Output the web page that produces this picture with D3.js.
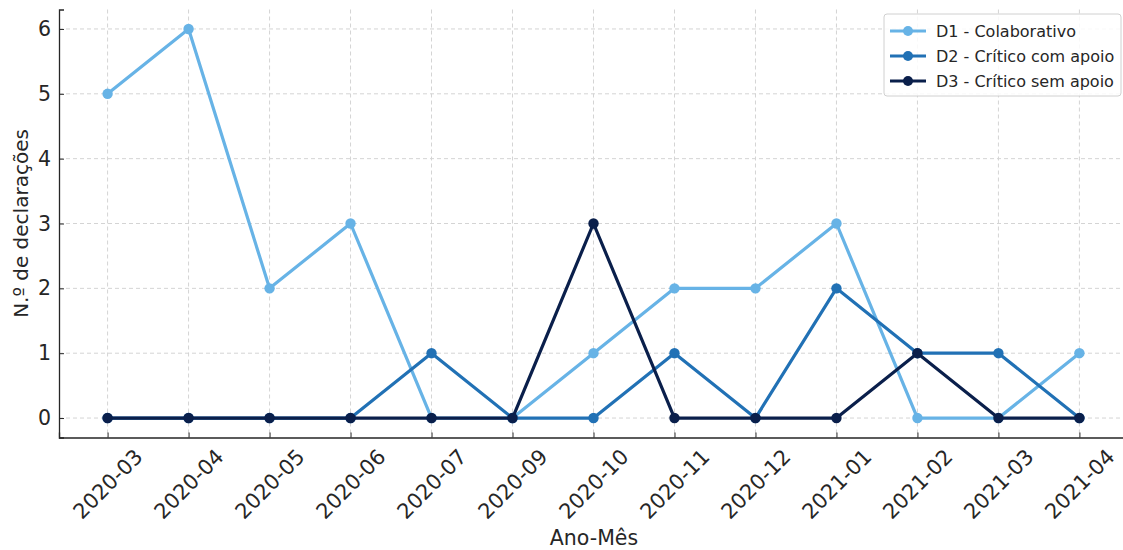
<!DOCTYPE html>
<html>
<head>
<meta charset="utf-8">
<title>Declarações por mês</title>
<script src="https://d3js.org/d3.v7.min.js"></script>
<style>
  body { margin: 0; background: #fff; }
  text { font-family: "DejaVu Sans", sans-serif; fill: #262626; }
</style>
</head>
<body>
<script>
// data
var months = ["2020-03","2020-04","2020-05","2020-06","2020-07","2020-09","2020-10",
              "2020-11","2020-12","2021-01","2021-02","2021-03","2021-04"];
var d1 = [5,6,2,3,0,0,1,2,2,3,0,0,1];
var d2 = [0,0,0,0,1,0,0,1,0,2,1,1,0];
var d3s = [0,0,0,0,0,0,3,0,0,0,1,0,0];
var seriesNames = ["D1 - Colaborativo", "D2 - Crítico com apoio", "D3 - Crítico sem apoio"];
var seriesColors = ["#67b3e6", "#2171b5", "#0a1f4b"];
var yTicks = [0,1,2,3,4,5,6];

var W = 1123, H = 550;
// plot area runs a little past the right edge, as in the original
var mLeft = 59, mRight = 1128, mTop = 9.5, mBottom = 437.5;

var svg = d3.select("body").append("svg").attr("width", W).attr("height", H);

var x = d3.scaleLinear().domain([-0.6, months.length - 1 + 0.6]).range([mLeft, mRight]);
var y = d3.scaleLinear().domain([-0.3, 6.3]).range([mBottom, mTop]);

// grid
var grid = svg.append("g");
grid.selectAll(".gx").data(months).enter().append("line")
    .attr("x1", function(d,i){ return x(i); }).attr("x2", function(d,i){ return x(i); })
    .attr("y1", mTop).attr("y2", mBottom)
    .attr("stroke", "#d4d4d4").attr("stroke-width", 1).attr("stroke-dasharray", "4,3");
grid.selectAll(".gy").data(yTicks).enter().append("line")
    .attr("x1", mLeft).attr("x2", mRight)
    .attr("y1", function(d){ return y(d); }).attr("y2", function(d){ return y(d); })
    .attr("stroke", "#d4d4d4").attr("stroke-width", 1).attr("stroke-dasharray", "4,3");

// axes (ticks point inward)
var yAxis = svg.append("g").attr("transform", "translate(" + mLeft + ",0)")
    .call(d3.axisLeft(y).tickValues(yTicks).tickSize(-5).tickPadding(8).tickFormat(d3.format("d")));
yAxis.select(".domain").attr("stroke", "#262626").attr("stroke-width", 1.3);
yAxis.selectAll(".tick line").attr("stroke", "#262626");
yAxis.selectAll("text").style("font-size", "20.5px");

var xAxis = svg.append("g").attr("transform", "translate(0," + mBottom + ")")
    .call(d3.axisBottom(x).tickValues(d3.range(months.length)).tickSize(-5).tickFormat(function(i){ return months[i]; }));
xAxis.select(".domain").attr("stroke", "#262626").attr("stroke-width", 1.3);
xAxis.selectAll(".tick line").attr("stroke", "#262626");
xAxis.selectAll("text")
    .style("font-size", "21px")
    .attr("text-anchor", "middle")
    .attr("dy", null)
    .attr("dominant-baseline", "central")
    .each(function(){
        var t = d3.select(this);
        var w = this.getComputedTextLength();
        var half = (w + 16) * Math.SQRT1_2 / 2;
        t.attr("y", 0).attr("transform", "translate(0," + (10 + half) + ") rotate(-45)");
    });

svg.append("text").attr("x", 594).attr("y", 545)
    .attr("text-anchor", "middle").style("font-size", "20.5px").text("Ano-Mês");
svg.append("text").attr("transform", "translate(28," + ((mTop + mBottom) / 2) + ") rotate(-90)")
    .attr("text-anchor", "middle").style("font-size", "20px").text("N.º de declarações");

// lines
var allSeries = [d1, d2, d3s];
var line = d3.line().x(function(d,i){ return x(i); }).y(function(d){ return y(d); });
allSeries.forEach(function(s, k){
    var g = svg.append("g");
    g.append("path").datum(s).attr("d", line)
        .attr("fill", "none").attr("stroke", seriesColors[k]).attr("stroke-width", 3.2)
        .attr("stroke-linejoin", "round");
    g.selectAll("circle").data(s).enter().append("circle")
        .attr("cx", function(d,i){ return x(i); }).attr("cy", function(d){ return y(d); })
        .attr("r", 5.2).attr("fill", seriesColors[k]);
});

// legend
var lg = svg.append("g").attr("transform", "translate(884,14)");
lg.append("rect").attr("width", 237).attr("height", 82).attr("rx", 3)
    .attr("fill", "#fff").attr("fill-opacity", 0.85).attr("stroke", "#d0d0d0");
seriesNames.forEach(function(name, k){
    var yy = 17 + k * 25;
    lg.append("line").attr("x1", 6).attr("x2", 42).attr("y1", yy).attr("y2", yy)
        .attr("stroke", seriesColors[k]).attr("stroke-width", 3);
    lg.append("circle").attr("cx", 24).attr("cy", yy).attr("r", 5).attr("fill", seriesColors[k]);
    lg.append("text").attr("x", 52).attr("y", yy).attr("dy", "0.35em")
        .style("font-size", "16px").text(name);
});
</script>
</body>
</html>
